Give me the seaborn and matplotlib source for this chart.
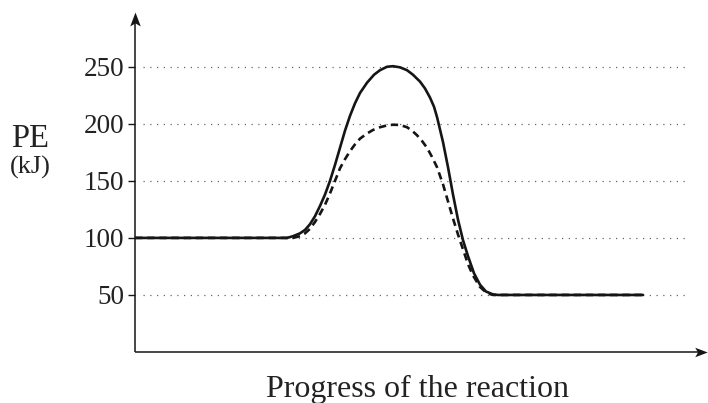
import matplotlib
matplotlib.use("Agg")
import matplotlib.pyplot as plt
from matplotlib.path import Path
import seaborn as sns
import pandas as pd

sns.set_theme(style="white")
plt.rcParams['font.family'] = ['Liberation Serif', 'DejaVu Serif']

# data (x = progress of the reaction, arbitrary units; y = PE in kJ)
solid_x = [0, 152, 158, 165, 170, 175, 180, 185, 190, 195, 200, 205, 210, 215, 220, 225,
           232, 239, 245, 252, 258, 265, 272, 278, 285, 290, 295, 299, 302, 308, 313,
           318, 323, 328, 333, 339, 345, 351, 358, 363, 508]
solid_y = [100, 100, 101.5, 104, 107, 112, 119, 128, 138, 150, 164, 179, 194, 207, 218, 227,
           236, 243, 247, 250, 250.5, 249.5, 247, 243, 237, 231, 223, 215, 206, 184, 162,
           138, 116, 98, 84, 69, 59, 53, 50.5, 50, 50]
dashed_x = [0, 158, 165, 170, 175, 180, 185, 190, 195, 200, 205, 210, 215, 220, 225, 232,
            238, 245, 252, 258, 265, 272, 277, 282, 287, 292, 297, 302, 308, 313, 318,
            323, 328, 333, 338, 345, 352, 358, 508]
dashed_y = [100, 100, 101.5, 104, 108, 114, 121, 129, 139, 150, 161, 169, 176, 182, 187, 191.5,
            194.6, 197, 198.6, 199.2, 199, 197, 194, 190, 185, 179, 171, 162, 147, 132, 117,
            103, 90, 77, 67, 57, 51.5, 50, 50]
y_ticks = [50, 100, 150, 200, 250]

fig = plt.figure(figsize=(7.08, 4.03), dpi=100)
ax = fig.add_axes([135/708, 51/403, 572/708, 340/403])
XMAX = 572
YMAX = 298

# grid lines
ax.hlines(y_ticks, 8, 554, colors="#666666", linestyles=(0, (1, 4.4)), linewidth=0.9, zorder=1)

df_s = pd.DataFrame({"x": solid_x, "y": solid_y})
df_d = pd.DataFrame({"x": dashed_x, "y": dashed_y})
sns.lineplot(data=df_s, x="x", y="y", ax=ax, color="#151515", linewidth=1.9, sort=False, zorder=3)
sns.lineplot(data=df_d, x="x", y="y", ax=ax, color="#151515", linewidth=1.9, sort=False,
             linestyle=(0, (2.8, 1.8)), zorder=4)

ax.set_xlim(0, XMAX)
ax.set_ylim(0, YMAX)
for s in ax.spines.values():
    s.set_visible(False)
ax.set_xticks([])
ax.set_yticks(y_ticks)
ax.set_yticklabels([str(v) for v in y_ticks])
ax.tick_params(axis="y", length=5, width=1, color="#151515", pad=3, labelsize=19.5,
               labelcolor="#222222", left=True, direction="out")
ax.set_xlabel("")
ax.set_ylabel("")

# axis lines
ax.plot([0, 0], [0, YMAX - 7], color="#151515", lw=1.1, clip_on=False, solid_capstyle="butt")
ax.plot([0, XMAX - 8], [0, 0], color="#151515", lw=1.1, clip_on=False, solid_capstyle="butt")

# stealth arrow heads
up = Path([(0, 0.5), (0.38, -0.5), (0, -0.28), (-0.38, -0.5), (0, 0.5)],
          [Path.MOVETO, Path.LINETO, Path.LINETO, Path.LINETO, Path.CLOSEPOLY])
right = Path([(0.5, 0), (-0.5, 0.38), (-0.28, 0), (-0.5, -0.38), (0.5, 0)],
             [Path.MOVETO, Path.LINETO, Path.LINETO, Path.LINETO, Path.CLOSEPOLY])
ax.plot([0], [YMAX - 6.5], marker=up, markersize=10, color="#151515", clip_on=False,
        markeredgewidth=0)
ax.plot([XMAX - 6.5], [0], marker=right, markersize=9, color="#151515", clip_on=False,
        markeredgewidth=0)

fig.text(30/708, 1 - 147/403, "PE", ha="center", va="baseline", fontsize=23.5, color="#222222")
fig.text(30/708, 1 - 174/403, "(kJ)", ha="center", va="baseline", fontsize=19, color="#222222")
fig.text(417/708, 1 - 397/403, "Progress of the reaction", ha="center", va="baseline",
         fontsize=23, color="#222222")

fig.savefig("out.png", dpi=100)
